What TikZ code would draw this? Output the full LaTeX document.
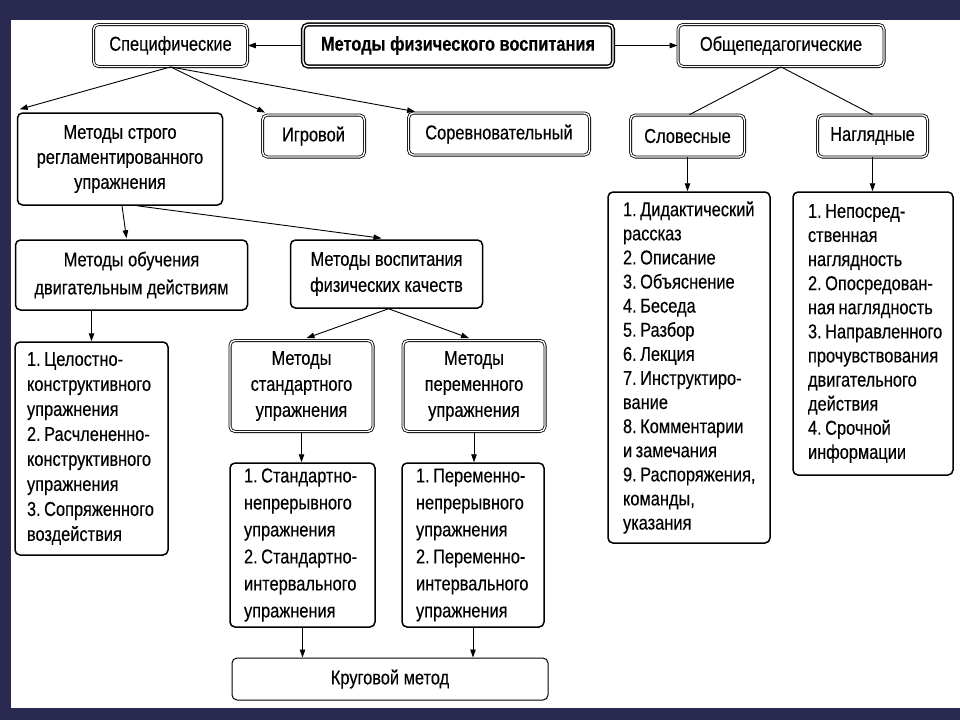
\documentclass[tikz,border=0pt]{standalone}
\usepackage{fontspec}
\setmainfont{Liberation Sans}[FakeStretch=0.82,FakeBold=0.3]
\usetikzlibrary{arrows.meta}
\definecolor{bgnavy}{RGB}{42,42,80}
\newcommand\nsp{\kern3.5pt\relax}
\begin{document}
\frenchspacing
\begin{tikzpicture}[x=1pt,y=-1pt,
  base/.style={draw, rounded corners=5pt, inner sep=0pt, align=center,
    font=\fontsize{20pt}{25pt}\selectfont},
  sbox/.style={base, line width=1.5pt},
  dbox/.style={base, double, line width=0.8pt, double distance=1.4pt},
  mbox/.style={base, double, line width=1.4pt, double distance=1.4pt,
    font=\fontsize{20pt}{25pt}\selectfont\bfseries},
  lbox/.style={base, line width=1.5pt, align=left, inner xsep=13pt},
  arr/.style={-{Triangle[length=8pt,width=5.5pt]}, line width=0.9pt},
  ln/.style={line width=0.9pt}]
\useasboundingbox (0,0) rectangle (960,720);
\fill[bgnavy] (0,0) rectangle (960,720);
\fill[white] (11,20) rectangle (960,708);

% row 1
\node[dbox, minimum width=154pt, minimum height=42pt] (spec) at (170.5,45.5) {Специфические};
\node[mbox, minimum width=310pt, minimum height=42pt] (main) at (458,45.5) {Методы физического воспитания};
\node[dbox, minimum width=206pt, minimum height=42pt] (obsh) at (781,45.5) {Общепедагогические};

% row 2
\node[sbox, minimum width=205pt, minimum height=92pt] (strog) at (120,159)
  {Методы строго\\регламентированного\\упражнения};
\node[dbox, minimum width=102pt, minimum height=42pt] (igr) at (313.5,136) {Игровой};
\node[dbox, minimum width=181pt, minimum height=42pt] (sorev) at (499,134) {Соревновательный};
\node[dbox, minimum width=114pt, minimum height=42pt] (slov) at (687.5,136) {Словесные};
\node[dbox, minimum width=110pt, minimum height=42pt] (nagl) at (872.5,136) {Наглядные};

% row 3
\node[sbox, minimum width=232pt, minimum height=70pt, font=\fontsize{20pt}{28pt}\selectfont] (obuch) at (131.5,275)
  {Методы обучения\\двигательным действиям};
\node[sbox, minimum width=192pt, minimum height=68pt, font=\fontsize{20pt}{26pt}\selectfont] (vosp) at (386.5,274)
  {Методы воспитания\\физических качеств};

% row 4
\node[dbox, minimum width=143pt, minimum height=91pt, font=\fontsize{20pt}{26pt}\selectfont] (std) at (301.5,386)
  {Методы\\стандартного\\упражнения};
\node[dbox, minimum width=142pt, minimum height=91pt, font=\fontsize{20pt}{26pt}\selectfont] (per) at (474,386)
  {Методы\\переменного\\упражнения};

\node[lbox, inner xsep=12pt, text width=129pt, minimum height=213pt, font=\fontsize{20pt}{25pt}\selectfont] (list1) at (91.5,448.5)
  {1.\nsp Целостно-\\конструктивного\\упражнения\\2.\nsp Расчлененно-\\конструктивного\\упражнения\\3.\nsp Сопряженного\\воздействия};

\node[lbox, inner xsep=14pt, text width=117pt, minimum height=164pt, font=\fontsize{20pt}{27pt}\selectfont] (stdl) at (302.5,545)
  {1.\nsp Стандартно-\\непрерывного\\упражнения\\2.\nsp Стандартно-\\интервального\\упражнения};
\node[lbox, inner xsep=14pt, text width=114pt, minimum height=164pt, font=\fontsize{20pt}{27pt}\selectfont] (perl) at (473,545)
  {1.\nsp Переменно-\\непрерывного\\упражнения\\2.\nsp Переменно-\\интервального\\упражнения};

\node[base, line width=1pt, minimum width=316pt, minimum height=42pt] (krug) at (390,679) {Круговой метод};

% right lists
\node[lbox, inner xsep=15pt, text width=132pt, minimum height=351pt, font=\fontsize{20pt}{24.1pt}\selectfont] (slovl) at (689,367.5)
  {1.\nsp Дидактический\\рассказ\\2.\nsp Описание\\3.\nsp Объяснение\\4.\nsp Беседа\\5.\nsp Разбор\\6.\nsp Лекция\\7.\nsp Инструктиро-\\вание\\8.\nsp Комментарии\\и\nsp замечания\\9.\nsp Распоряжения,\\команды,\\указания};
\node[lbox, inner xsep=15pt, text width=130pt, minimum height=283pt, font=\fontsize{20pt}{24.1pt}\selectfont] (nagll) at (873,333.5)
  {1.\nsp Непосред-\\ственная\\наглядность\\2.\nsp Опосредован-\\ная\nsp наглядность\\3.\nsp Направленного\\прочувствования\\двигательного\\действия\\4.\nsp Срочной\\информации};

% connectors
\draw[arr] (main.west) -- (spec.east);
\draw[arr] (main.east) -- (obsh.east -| obsh.west);
\draw[arr] (spec.south) -- ([xshift=3pt,yshift=3pt]strog.north west);
\draw[arr] (spec.south) -- ([xshift=3pt,yshift=2pt]igr.north west);
\draw[arr] (spec.south) -- ([xshift=7pt,yshift=1pt]sorev.north west);
\draw[ln] (obsh.south) -- ([xshift=2pt]slov.north);
\draw[ln] (obsh.south) -- (nagl.north);
\draw[arr] (slov.south) -- (slov.south |- slovl.north);
\draw[arr] (nagl.south) -- (nagl.south |- nagll.north);
\draw[arr] ([xshift=2pt]strog.south) -- ([xshift=-5pt,yshift=1pt]obuch.north);
\draw[arr] ([xshift=17pt]strog.south) -- ([xshift=-5pt,yshift=1pt]vosp.north);
\draw[arr] (list1.north |- obuch.south) -- (list1.north);
\draw[arr] ([xshift=2pt]vosp.south) -- ([xshift=5pt,yshift=2pt]std.north);
\draw[arr] ([xshift=2pt]vosp.south) -- ([xshift=-5pt,yshift=2pt]per.north);
\draw[arr] (std.south) -- (std.south |- stdl.north);
\draw[arr] (per.south) -- (per.south |- perl.north);
\draw[arr] (stdl.south) -- (stdl.south |- krug.north);
\draw[arr] (perl.south) -- (perl.south |- krug.north);
\end{tikzpicture}
\end{document}
